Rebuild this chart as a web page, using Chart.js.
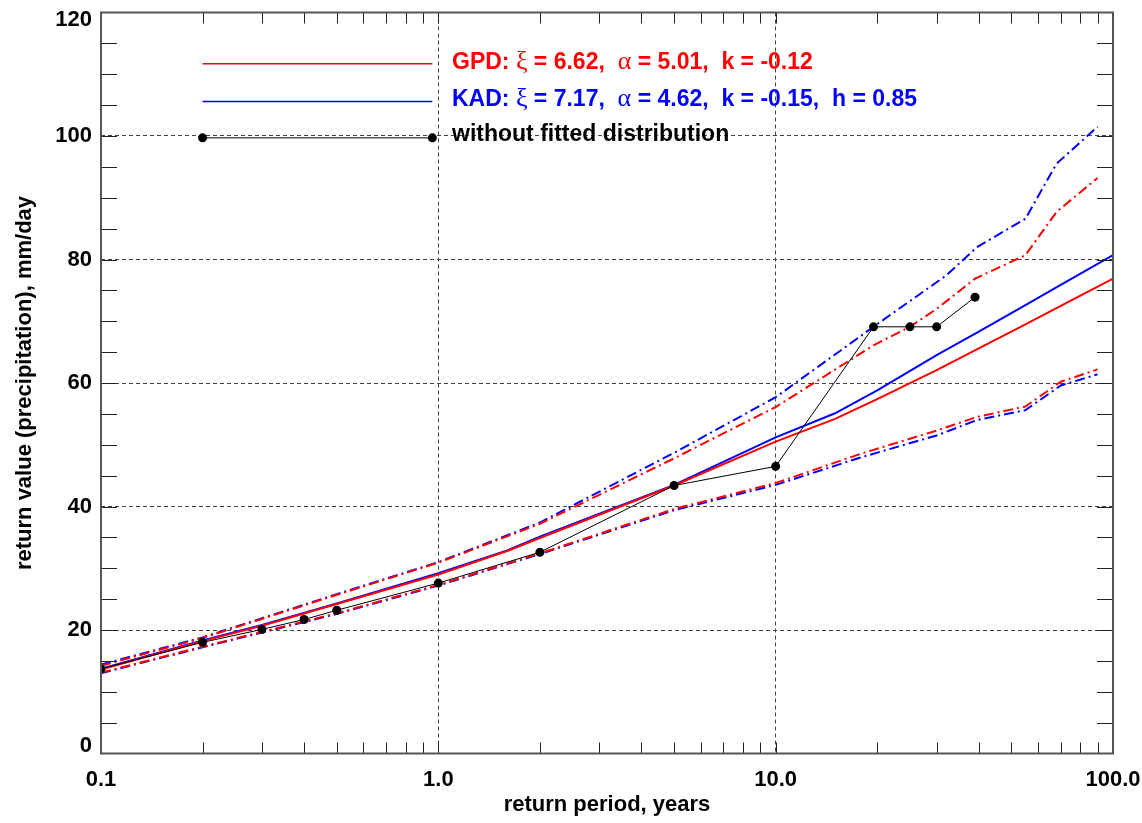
<!DOCTYPE html>
<html>
<head>
<meta charset="utf-8">
<script src="https://cdn.jsdelivr.net/npm/chart.js@4.4.1/dist/chart.umd.min.js"></script>
<style>
  html, body { margin: 0; padding: 0; background: #fff; }
  canvas { display: block; }
</style>
</head>
<body>
<canvas id="rvChart" width="1142" height="823" style="width:1142px;height:823px"></canvas>
<script>
// observed return values (no fitted distribution)
const obsPeriods = [0.1, 0.2, 0.3, 0.4, 0.5, 1, 2, 5, 10, 19.5, 25, 30, 39];
const obsValues = [13.7, 18.0, 20.1, 21.7, 23.2, 27.6, 32.6, 43.4, 46.5, 69.1, 69.1, 69.1, 73.9];

// fitted curves
const fitPeriods = [0.1, 0.2, 0.3, 0.5, 1, 1.6, 2, 5, 10, 15, 20, 30, 40, 55, 70, 100];
const gpdValues = [13.6, 18.2, 20.7, 24.2, 29.0, 32.8, 34.9, 43.4, 50.5, 54.2, 57.4, 62.1, 65.6, 69.5, 72.5, 76.9];
const kadValues = [13.7, 18.3, 20.8, 24.3, 29.2, 32.9, 35.1, 43.5, 51.2, 55.1, 58.8, 64.5, 68.3, 72.6, 75.9, 80.7];

// confidence bounds
const gpdUpperPeriods = [0.1, 0.2, 0.5, 1, 2, 5, 10, 19.5, 25, 30, 39, 55, 68, 90];
const gpdUpper = [14.2, 18.7, 25.7, 30.9, 37.2, 47.8, 56.1, 66.1, 69.1, 72.0, 76.9, 80.7, 87.7, 93.2];
const kadUpperPeriods = [0.1, 0.2, 0.5, 1, 2, 5, 10, 19.5, 32, 39.5, 55, 68, 90];
const kadUpper = [14.4, 18.8, 25.8, 31.0, 37.4, 48.7, 57.7, 69.1, 77.4, 82.0, 86.6, 95.5, 101.5];
const lowerPeriods = [0.1, 0.2, 0.5, 1, 2, 5, 10, 18, 30, 39.5, 55, 70, 90];
const gpdLower = [13.1, 17.3, 22.7, 27.3, 32.4, 39.6, 43.8, 48.6, 52.3, 54.5, 56.2, 60.2, 62.2];
const kadLower = [13.0, 17.2, 22.6, 27.2, 32.3, 39.4, 43.5, 48.0, 51.5, 54.0, 55.6, 59.6, 61.4];

// legend samples (drawn in data space like the original)
const legendPeriods = [0.2, 0.96];
const legendLevels = [111.7, 105.6, 99.7];

const xTickValues = [0.1, 0.2, 0.3, 0.4, 0.5, 0.6, 0.7, 0.8, 0.9,
                     1, 2, 3, 4, 5, 6, 7, 8, 9,
                     10, 20, 30, 40, 50, 60, 70, 80, 90, 100];
const xGridValues = [1, 10];
const gpdText = ['GPD: ', 'ξ', ' = 6.62,  ', 'α', ' = 5.01,  k = -0.12'];
const kadText = ['KAD: ', 'ξ', ' = 7.17,  ', 'α', ' = 4.62,  k = -0.15,  h = 0.85'];
const obsText = 'without fitted distribution';

const FONT = "'Liberation Sans', Arial, sans-serif";
const GREEK = "'Liberation Serif', 'DejaVu Serif', serif";
const RED = '#ff0000';
const BLUE = '#0000ff';
const DASHDOT = [10, 4, 2, 4];

function pts(xs, ys) {
    return xs.map((x, i) => ({ x: x, y: ys[i] }));
}

function line(label, xs, ys, color, dash, width) {
    return {
        label: label,
        data: pts(xs, ys),
        borderColor: color,
        borderWidth: width || 2,
        borderDash: dash || [],
        pointRadius: 0,
        fill: false,
        tension: 0
    };
}

const decorations = {
    id: 'decorations',
    beforeDraw(chart) {
        // IDL keeps the end labels inside the box
        const items = chart.scales.y.getLabelItems(chart.chartArea);
        items.forEach(it => {
            if (it.label === '120') it.options.translation[1] += 7;
            if (it.label === '0') it.options.translation[1] -= 8;
        });
    },
    afterDraw(chart) {
        const { ctx, chartArea: a, scales: { x, y } } = chart;
        ctx.save();
        ctx.strokeStyle = '#222';
        ctx.lineWidth = 1;
        ctx.beginPath();
        xTickValues.forEach(v => {
            const px = Math.round(x.getPixelForValue(v)) + 0.5;
            ctx.moveTo(px, a.bottom);
            ctx.lineTo(px, a.bottom - 11);
            ctx.moveTo(px, a.top);
            ctx.lineTo(px, a.top + 11);
        });
        for (let v = 5; v < 120; v += 5) {
            const py = Math.round(y.getPixelForValue(v)) + 0.5;
            ctx.moveTo(a.left, py);
            ctx.lineTo(a.left + 16, py);
            ctx.moveTo(a.right, py);
            ctx.lineTo(a.right - 16, py);
        }
        ctx.stroke();

        ctx.strokeStyle = '#555';
        ctx.lineWidth = 2;
        ctx.strokeRect(a.left, a.top, a.right - a.left, a.bottom - a.top);

        // legend text
        const drawParts = (parts, colors, px, py) => {
            parts.forEach((t, i) => {
                const greek = (i % 2 === 1);
                ctx.font = greek ? '26px ' + GREEK : 'bold 23px ' + FONT;
                ctx.fillStyle = colors;
                ctx.fillText(t, px, py);
                px += ctx.measureText(t).width;
            });
        };
        ctx.textBaseline = 'alphabetic';
        ctx.textAlign = 'left';
        drawParts(gpdText, RED, 452, 69);
        drawParts(kadText, BLUE, 452, 106);
        ctx.font = 'bold 23px ' + FONT;
        ctx.fillStyle = '#000';
        ctx.fillText(obsText, 452, 141);
        ctx.restore();
    }
};

const ctx = document.getElementById('rvChart');

new Chart(ctx, {
    type: 'line',
    data: {
        datasets: [
            {
                label: 'observed',
                data: pts(obsPeriods, obsValues),
                borderColor: '#000',
                borderWidth: 1,
                pointRadius: 4.5,
                pointBackgroundColor: '#000',
                pointBorderWidth: 0,
                fill: false
            },
            {
                label: 'legend obs',
                data: pts(legendPeriods, [legendLevels[2], legendLevels[2]]),
                borderColor: '#000',
                borderWidth: 1,
                pointRadius: 4.5,
                pointBackgroundColor: '#000',
                pointBorderWidth: 0,
                fill: false
            },
            line('legend GPD', legendPeriods, [legendLevels[0], legendLevels[0]], RED, [], 1.5),
            line('legend KAD', legendPeriods, [legendLevels[1], legendLevels[1]], BLUE, [], 1.5),
            line('GPD', fitPeriods, gpdValues, RED),
            line('KAD', fitPeriods, kadValues, BLUE),
            line('GPD upper', gpdUpperPeriods, gpdUpper, RED, DASHDOT),
            line('KAD upper', kadUpperPeriods, kadUpper, BLUE, DASHDOT),
            line('GPD lower', lowerPeriods, gpdLower, RED, DASHDOT),
            line('KAD lower', lowerPeriods, kadLower, BLUE, DASHDOT)
        ]
    },
    options: {
        responsive: false,
        animation: false,
        layout: { padding: { left: 0, right: 29, top: 12.5, bottom: 0 } },
        plugins: {
            legend: { display: false },
            tooltip: { enabled: false }
        },
        scales: {
            x: {
                type: 'logarithmic',
                min: 0.1,
                max: 100,
                afterBuildTicks: function (scale) {
                    scale.ticks = xTickValues.map(v => ({ value: v }));
                },
                afterFit: function (scale) {
                    scale.height = 69.5;
                    scale.paddingLeft = 0;
                    scale.paddingRight = 0;
                },
                ticks: {
                    autoSkip: false,
                    maxRotation: 0,
                    padding: 13,
                    color: '#000',
                    font: { family: FONT, size: 22, weight: 'bold' },
                    callback: function (value) {
                        const e = Math.log10(value);
                        if (Math.abs(e - Math.round(e)) > 1e-9) return '';
                        return value.toFixed(1);
                    }
                },
                grid: {
                    drawTicks: false,
                    lineWidth: 1,
                    color: function (c) {
                        return c.tick && xGridValues.includes(c.tick.value) ? '#444' : 'rgba(0,0,0,0)';
                    }
                },
                border: { display: false, dash: [4, 3] },
                title: {
                    display: true,
                    text: 'return period, years',
                    color: '#000',
                    font: { family: FONT, size: 22, weight: 'bold' },
                    padding: { top: 0, bottom: 5 }
                }
            },
            y: {
                min: 0,
                max: 120,
                afterFit: function (scale) {
                    scale.width = 101;
                    scale.paddingTop = 0;
                    scale.paddingBottom = 0;
                },
                ticks: {
                    stepSize: 5,
                    autoSkip: false,
                    padding: 9,
                    color: '#000',
                    font: { family: FONT, size: 22, weight: 'bold' },
                    callback: function (value) {
                        return value % 20 === 0 ? String(value) : '';
                    }
                },
                grid: {
                    drawTicks: false,
                    lineWidth: 1,
                    color: function (c) {
                        const v = c.tick ? c.tick.value : -1;
                        return (v % 20 === 0 && v > 0 && v < 120) ? '#444' : 'rgba(0,0,0,0)';
                    }
                },
                border: { display: false, dash: [4, 3] },
                title: {
                    display: true,
                    text: 'return value (precipitation), mm/day',
                    color: '#000',
                    font: { family: FONT, size: 22, weight: 'bold' },
                    padding: { top: 12, bottom: 0 }
                }
            }
        }
    },
    plugins: [decorations]
});
</script>
</body>
</html>
